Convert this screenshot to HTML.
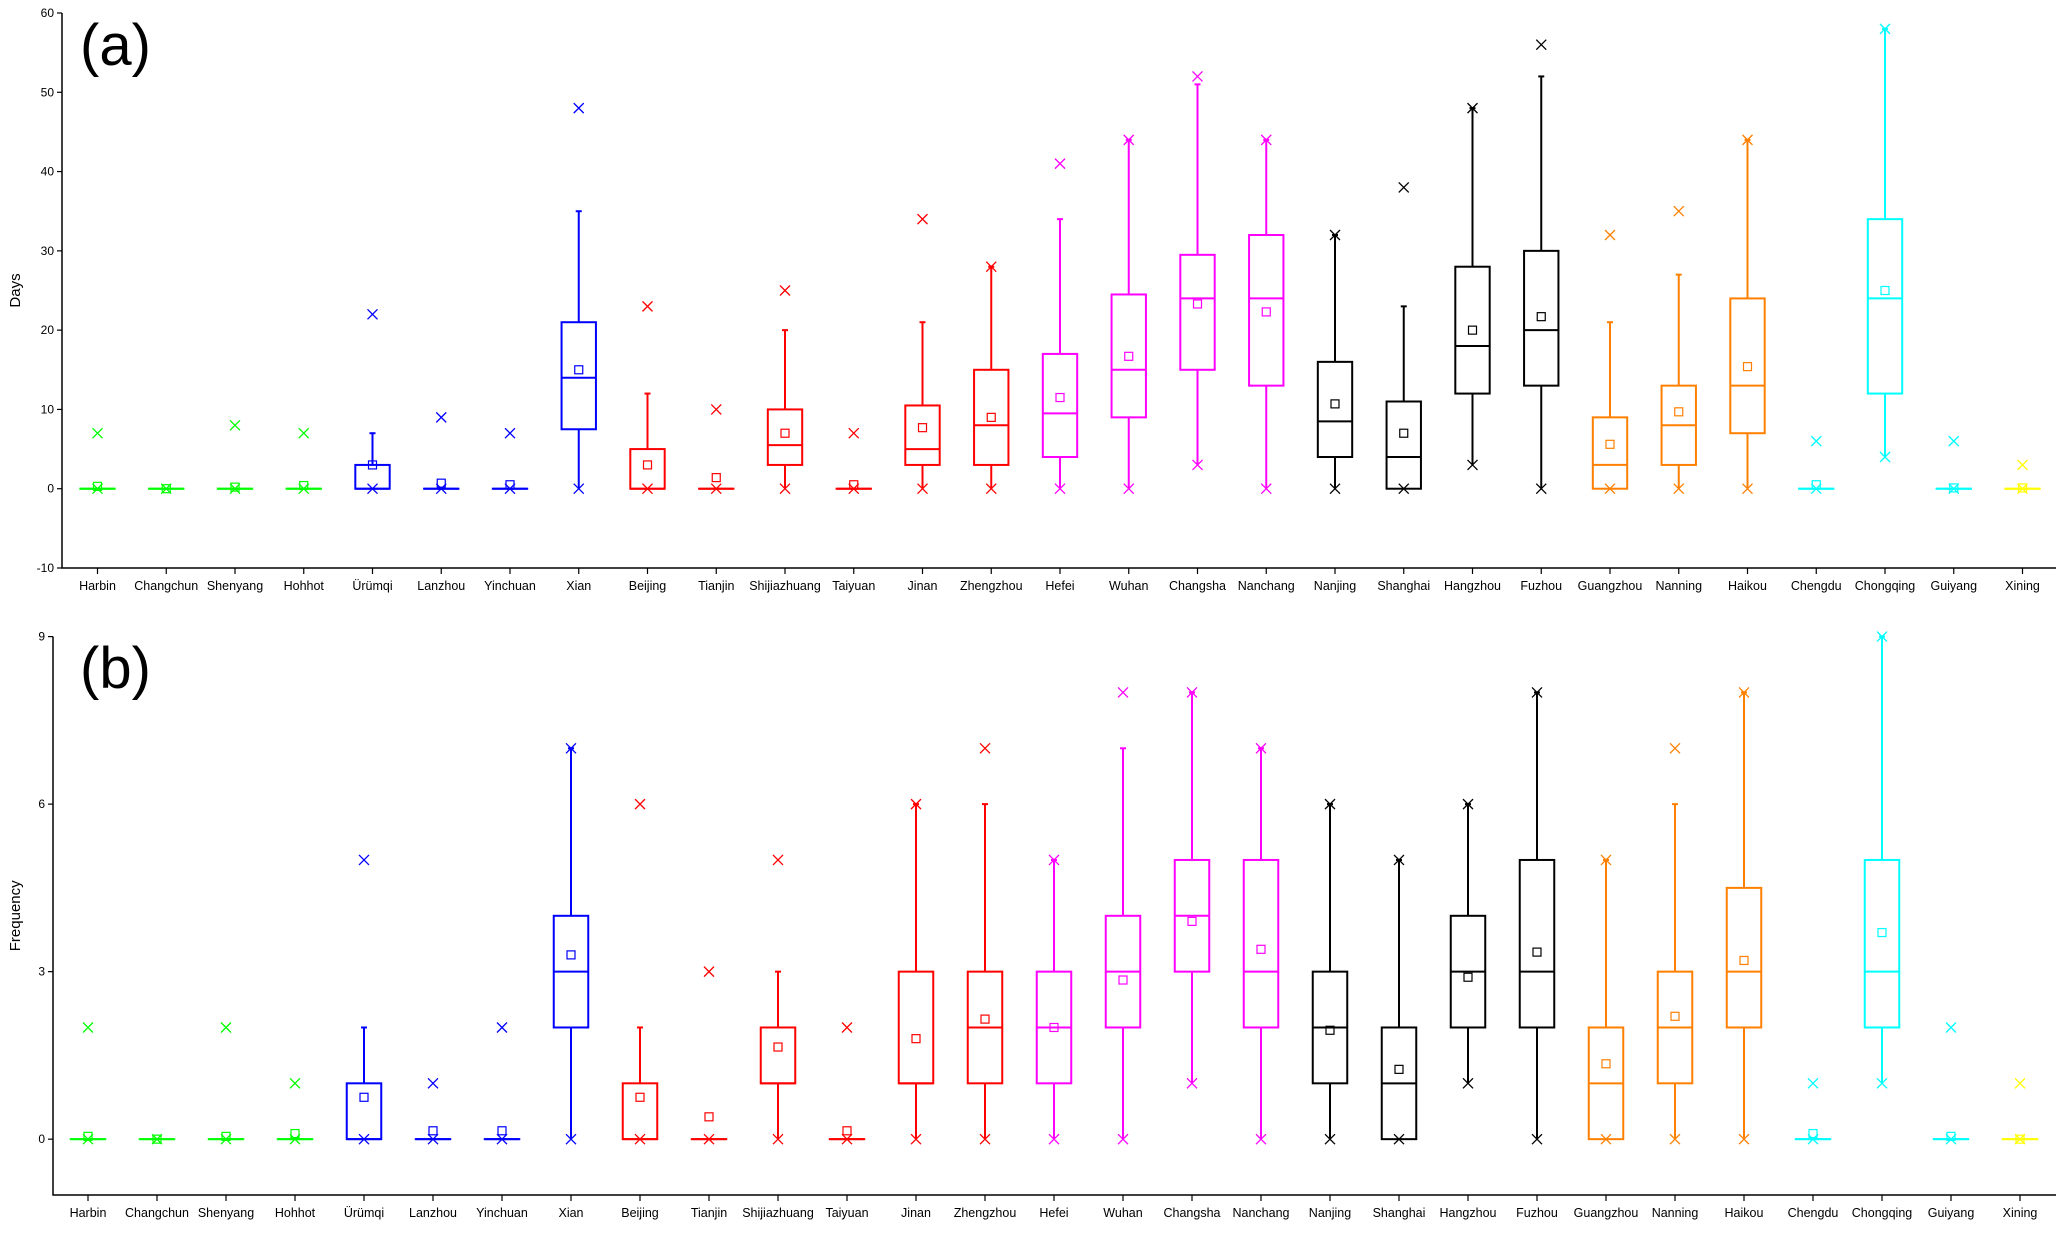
<!DOCTYPE html>
<html><head><meta charset="utf-8"><style>
html,body{margin:0;padding:0;background:#fff;}
svg text{font-family:"Liberation Sans",Arial,sans-serif;}
</style></head><body>
<svg id="chart" width="2067" height="1228" viewBox="0 0 2067 1228" xmlns="http://www.w3.org/2000/svg"></svg>
<script>
const cities=["Harbin","Changchun","Shenyang","Hohhot","Ürümqi","Lanzhou","Yinchuan","Xian","Beijing","Tianjin","Shijiazhuang","Taiyuan","Jinan","Zhengzhou","Hefei","Wuhan","Changsha","Nanchang","Nanjing","Shanghai","Hangzhou","Fuzhou","Guangzhou","Nanning","Haikou","Chengdu","Chongqing","Guiyang","Xining"];
const cityColors=["#00ff00","#00ff00","#00ff00","#00ff00","#0000ff","#0000ff","#0000ff","#0000ff","#ff0000","#ff0000","#ff0000","#ff0000","#ff0000","#ff0000","#ff00ff","#ff00ff","#ff00ff","#ff00ff","#000000","#000000","#000000","#000000","#ff8000","#ff8000","#ff8000","#00ffff","#00ffff","#00ffff","#ffff00"];
// Panel (a) Days
const aWhiskLow=[0,0,0,0,0,0,0,0,0,0,0,0,0,0,0,0,3,0,0,0,3,0,0,0,0,0,4,0,0];
const aQ1=[0,0,0,0,0,0,0,7.5,0,0,3,0,3,3,4,9,15,13,4,0,12,13,0,3,7,0,12,0,0];
const aMedian=[0,0,0,0,0,0,0,14,0,0,5.5,0,5,8,9.5,15,24,24,8.5,4,18,20,3,8,13,0,24,0,0];
const aQ3=[0,0,0,0,3,0,0,21,5,0,10,0,10.5,15,17,24.5,29.5,32,16,11,28,30,9,13,24,0,34,0,0];
const aWhiskHigh=[0,0,0,0,7,0,0,35,12,0,20,0,21,28,34,44,51,44,32,23,48,52,21,27,44,0,58,0,0];
const aMean=[0.3,0,0.2,0.4,3,0.7,0.5,15,3,1.4,7,0.5,7.7,9,11.5,16.7,23.3,22.3,10.7,7,20,21.7,5.6,9.7,15.4,0.5,25,0.1,0.1];
const aMarks=[[0,7],[0],[0,8],[0,7],[0,22],[0,9],[0,7],[0,48],[0,23],[0,10],[0,25],[0,7],[0,34],[0,28],[0,41],[0,44],[3,52],[0,44],[0,32],[0,38],[3,48],[0,56],[0,32],[0,35],[0,44],[0,6],[4,58],[0,6],[0,3]];
const aTicks=[-10,0,10,20,30,40,50,60];
// Panel (b) Frequency
const bWhiskLow=[0,0,0,0,0,0,0,0,0,0,0,0,0,0,0,0,1,0,0,0,1,0,0,0,0,0,1,0,0];
const bQ1=[0,0,0,0,0,0,0,2,0,0,1,0,1,1,1,2,3,2,1,0,2,2,0,1,2,0,2,0,0];
const bMedian=[0,0,0,0,0,0,0,3,0,0,1,0,1,2,2,3,4,3,2,1,3,3,1,2,3,0,3,0,0];
const bQ3=[0,0,0,0,1,0,0,4,1,0,2,0,3,3,3,4,5,5,3,2,4,5,2,3,4.5,0,5,0,0];
const bWhiskHigh=[0,0,0,0,2,0,0,7,2,0,3,0,6,6,5,7,8,7,6,5,6,8,5,6,8,0,9,0,0];
const bMean=[0.05,0,0.05,0.1,0.75,0.15,0.15,3.3,0.75,0.4,1.65,0.15,1.8,2.15,2,2.85,3.9,3.4,1.95,1.25,2.9,3.35,1.35,2.2,3.2,0.1,3.7,0.05,0];
const bMarks=[[0,2],[0],[0,2],[0,1],[0,5],[0,1],[0,2],[0,7],[0,6],[0,3],[0,5],[0,2],[0,6],[0,7],[0,5],[0,8],[1,8],[0,7],[0,6],[0,5],[1,6],[0,8],[0,5],[0,7],[0,8],[0,1],[1,9],[0,2],[0,1]];
const bTicks=[0,3,6,9];

const NS="http://www.w3.org/2000/svg";
const svg=document.getElementById('chart');
function mk(tag,attrs,parent){const e=document.createElementNS(NS,tag);for(const k in attrs)e.setAttribute(k,attrs[k]);(parent||svg).appendChild(e);return e;}

function panel(cfg){
  const g=mk('g',{});
  
  
  const L=cfg.left,R=2056,T=cfg.top,B=cfg.bottom;
  const y=v=>B-(v-cfg.ymin)/(cfg.ymax-cfg.ymin)*(B-T);
  const x=i=>cfg.x0+i*cfg.dx;
  const ax=mk('path',{d:`M${L},${T}V${B}H${R}`,stroke:'#000','stroke-width':1.5,fill:'none'},g);
  
  
  cfg.ticks.forEach(t=>{
    mk('line',{x1:L-5,x2:L,y1:y(t),y2:y(t),stroke:'#000','stroke-width':1.2},g);
    const tx=mk('text',{x:L-8,y:y(t)+4,'font-size':12,'text-anchor':'end'},g);
    tx.textContent=t;
    
    
  });
  const yt=mk('text',{x:0,y:0,'font-size':15,'text-anchor':'middle',transform:`translate(${cfg.titleX},${(T+B)/2}) rotate(-90)`},g);
  yt.textContent=cfg.title;
  
  
  const pl=mk('text',{x:cfg.labX,y:cfg.labY,'font-size':58},g);
  pl.textContent=cfg.label;
  
  
  const hw=cfg.dx*0.25;
  cities.forEach((c,i)=>{
    const cx=x(i),col=cityColors[i];
    mk('line',{x1:cx,x2:cx,y1:B,y2:B+6,stroke:'#000','stroke-width':1.2},g);
    const lt=mk('text',{x:cx,y:B+22,'font-size':12.5,'text-anchor':'middle'},g);
    lt.textContent=c;
    
    
    const bg=mk('g',{stroke:col,fill:'none','stroke-width':2},g);
    
    
    mk('line',{x1:cx,x2:cx,y1:y(cfg.wl[i]),y2:y(cfg.q1[i])},bg);
    mk('line',{x1:cx,x2:cx,y1:y(cfg.q3[i]),y2:y(cfg.wh[i])},bg);
    mk('line',{x1:cx-3,x2:cx+3,y1:y(cfg.wh[i]),y2:y(cfg.wh[i])},bg);
    mk('rect',{x:cx-hw,y:y(cfg.q3[i]),width:2*hw,height:Math.max(0.01,y(cfg.q1[i])-y(cfg.q3[i]))},bg);
    mk('line',{x1:cx-hw,x2:cx+hw,y1:y(cfg.md[i]),y2:y(cfg.md[i])},bg);
    const my=y(cfg.mean[i]);
    mk('rect',{x:cx-4,y:my-4,width:8,height:8,'stroke-width':1.2},bg);
    cfg.marks[i].forEach(v=>{
      const vy=y(v);
      mk('path',{d:`M${cx-5},${vy-5}L${cx+5},${vy+5}M${cx+5},${vy-5}L${cx-5},${vy+5}`,'stroke-width':1.3},bg);
    });
  });
}
panel({name:'panel-a-days',left:62,top:13,bottom:568,ymin:-10,ymax:60,x0:97.5,dx:68.75,ticks:aTicks,title:'Days',titleX:20,label:'(a)',labX:80,labY:65,
  wl:aWhiskLow,q1:aQ1,md:aMedian,q3:aQ3,wh:aWhiskHigh,mean:aMean,marks:aMarks});
panel({name:'panel-b-frequency',left:53,top:636.6,bottom:1195,ymin:-1,ymax:9,x0:88,dx:69.0,ticks:bTicks,title:'Frequency',titleX:20,label:'(b)',labX:80,labY:688,
  wl:bWhiskLow,q1:bQ1,md:bMedian,q3:bQ3,wh:bWhiskHigh,mean:bMean,marks:bMarks});
</script>
</body></html>
